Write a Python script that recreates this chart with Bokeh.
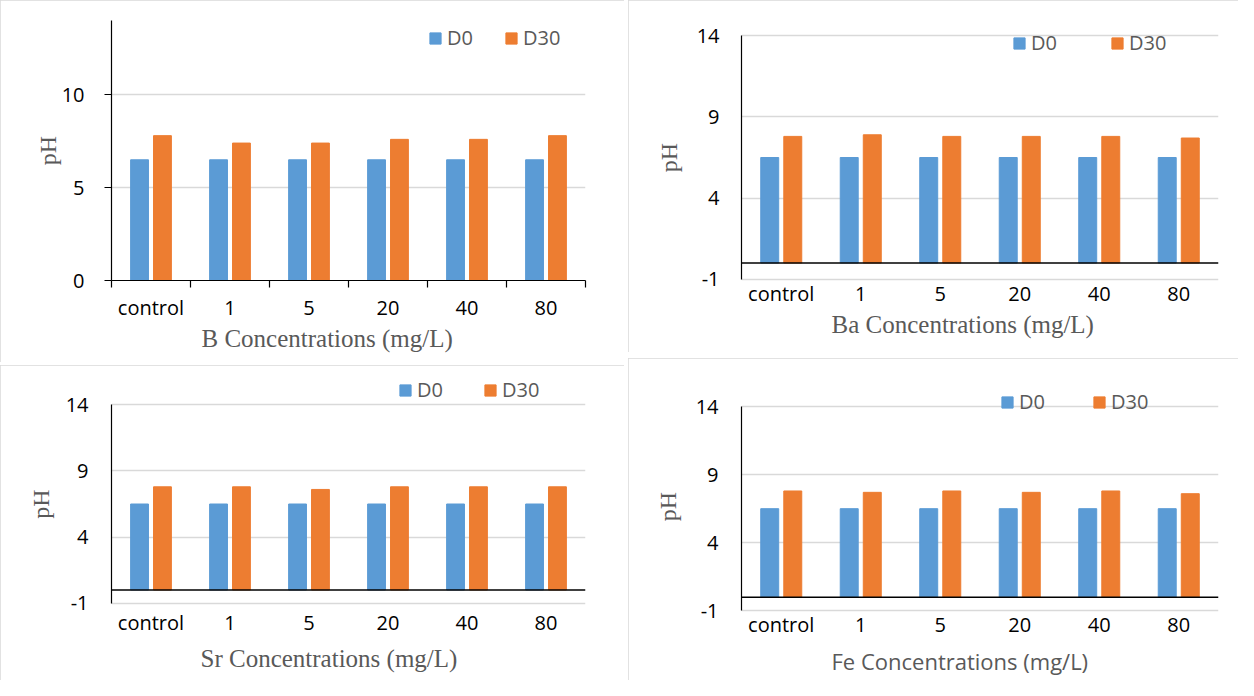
from bokeh.plotting import figure
from bokeh.models import (Range1d, FixedTicker, LinearAxis, Span, Title,
                          ColumnDataSource)
from bokeh.layouts import row, column
from bokeh.embed import file_html
from bokeh.resources import INLINE

# ---------------- data ----------------
categories = ["control", "1", "5", "20", "40", "80"]
series = ["D0", "D30"]

b_d0 = [6.5, 6.5, 6.5, 6.5, 6.5, 6.5]
b_d30 = [7.8, 7.4, 7.4, 7.6, 7.6, 7.8]

ba_d0 = [6.5, 6.5, 6.5, 6.5, 6.5, 6.5]
ba_d30 = [7.8, 7.9, 7.8, 7.8, 7.8, 7.7]

sr_d0 = [6.5, 6.5, 6.5, 6.5, 6.5, 6.5]
sr_d30 = [7.8, 7.8, 7.6, 7.8, 7.8, 7.8]

fe_d0 = [6.5, 6.5, 6.5, 6.5, 6.5, 6.5]
fe_d30 = [7.8, 7.7, 7.8, 7.7, 7.8, 7.6]

b_yticks = [0, 5, 10]
yticks = [-1, 4, 9, 14]
b_axis_max = 14

titles = ["B Concentrations (mg/L)", "Ba Concentrations (mg/L)",
          "Sr Concentrations (mg/L)", "Fe Concentrations (mg/L)"]
y_title = "pH"

# ---------------- style ----------------
BLUE = "#5B9BD5"
ORANGE = "#ED7D31"
GRID = "#d9d9d9"
GREY_TXT = "#595959"
SANS = "Open Sans"
SERIF = "Liberation Serif"
FRAME_STYLE = {"outline": "2px solid #d9d9d9", "outline-offset": "-2px"}
BAR_W = 0.226
BAR_OFF = 0.145

n = len(categories)
centers = [i + 0.5 for i in range(n)]
edges = list(range(n + 1))


def panel(title, d0, d30, ticks, bounds, frame_range, size, borders,
          first_style, legend_xy, legend_spacing, title_font, title_size,
          title_offset, title_standoff, title_valign, ylab_standoff,
          ytick_standoff, ytick_out, xlab_standoff, zero_line):
    width, height = size
    left, right, top, bottom = borders
    src = ColumnDataSource(dict(
        cat=categories, d0=d0, d30=d30,
        x0=[c - BAR_OFF for c in centers], x1=[c + BAR_OFF for c in centers]))
    p = figure(x_range=Range1d(0, n), y_range=Range1d(*frame_range),
               width=width, height=height, output_backend="svg",
               toolbar_location=None, x_axis_location=None,
               min_border_left=left, min_border_right=right,
               min_border_top=top, min_border_bottom=bottom,
               styles=FRAME_STYLE)
    p.outline_line_color = None
    p.background_fill_color = "white"
    p.border_fill_color = "white"

    p.vbar(x="x0", top="d0", width=BAR_W, source=src, color=BLUE,
           legend_label=series[0])
    p.vbar(x="x1", top="d30", width=BAR_W, source=src, color=ORANGE,
           legend_label=series[1])

    if zero_line:
        p.add_layout(Span(location=0, dimension="width", line_color="black",
                          line_width=1.5))

    # y axis
    yax = p.yaxis[0]
    yax.ticker = FixedTicker(ticks=ticks)
    yax.bounds = bounds
    yax.major_label_overrides = {t: str(t) for t in ticks}
    yax.axis_line_color = "black"
    yax.axis_line_width = 1.2
    yax.major_tick_out = ytick_out
    yax.major_tick_in = 0
    yax.major_tick_line_color = "black"
    yax.minor_tick_out = 0
    yax.minor_tick_in = 0
    yax.major_label_standoff = ytick_standoff
    yax.major_label_text_font = SANS
    yax.major_label_text_font_size = "20px"
    yax.major_label_text_color = "black"
    yax.axis_label = y_title
    yax.axis_label_text_font = SERIF
    yax.axis_label_text_font_size = "24px"
    yax.axis_label_text_font_style = "normal"
    yax.axis_label_text_color = GREY_TXT
    yax.axis_label_standoff = ylab_standoff

    p.ygrid.grid_line_color = GRID
    p.ygrid.grid_line_width = 1.5
    p.xgrid.grid_line_color = None

    # x axis: category labels at centres, (B only) tick marks at edges
    xax = LinearAxis(ticker=FixedTicker(ticks=centers,
                                        minor_ticks=edges if first_style else []),
                     major_label_overrides={c: lab for c, lab in zip(centers, categories)},
                     axis_line_color="black" if first_style else None,
                     axis_line_width=1.2,
                     major_tick_line_color=None,
                     major_tick_out=7 if first_style else 0, major_tick_in=0,
                     minor_tick_line_color="black" if first_style else None,
                     minor_tick_line_width=1.2,
                     minor_tick_out=7 if first_style else 0, minor_tick_in=0,
                     major_label_standoff=xlab_standoff,
                     major_label_text_font=SANS,
                     major_label_text_font_size="20px",
                     major_label_text_color="black")
    p.add_layout(xax, "below")
    p.add_layout(Title(text=title, align="left", offset=title_offset,
                       standoff=title_standoff, vertical_align=title_valign,
                       text_font=title_font, text_font_size=title_size,
                       text_font_style="normal", text_color=GREY_TXT),
                 "below")

    lg = p.legend[0]
    lg.location = legend_xy
    lg.orientation = "horizontal"
    lg.border_line_color = None
    lg.background_fill_alpha = 0
    lg.padding = 0
    lg.margin = 0
    lg.spacing = legend_spacing
    lg.glyph_width = 14
    lg.glyph_height = 14
    lg.label_height = 14
    lg.label_standoff = 5
    lg.label_text_font = SANS
    lg.label_text_font_size = "20px"
    lg.label_text_color = GREY_TXT
    return p


p_b = panel(titles[0], b_d0, b_d30, b_yticks, (0, b_axis_max), (0, 14),
            (624, 362), (107, 39, 20, 82), True, (317, 229), 31,
            SERIF, "25px", 90, 0, "middle", -2, 20, 7, 6, False)
p_sr = panel(titles[2], sr_d0, sr_d30, yticks, (yticks[0], yticks[-1]),
             (-3.29, 16.29), (624, 315), (111, 33, 9, 47), False, (287, 230),
             40, SERIF, "25px", 89, 10, "middle", 9, 23, 0, -25, True)
p_ba = panel(titles[1], ba_d0, ba_d30, yticks, (yticks[0], yticks[-1]),
             (-1.573, 14.573), (610, 352), (112, 20, 26, 64), False,
             (271, 232), 53, SERIF, "25px", 90, 0, "middle", 12, 22, 0, -9,
             True)
p_fe = panel(titles[3], fe_d0, fe_d30, yticks, (yticks[0], yticks[-1]),
             (-2.15, 15.47), (610, 322), (113, 17, 28, 54), False,
             (259, 211), 47, SANS, "22px", 90, 7, "bottom", 12, 23, 0, -16,
             True)

layout = row(column(p_b, p_sr, spacing=3), column(p_ba, p_fe, spacing=6),
             spacing=4)

with open("out.html", "w") as f:
    f.write(file_html(layout, INLINE))
